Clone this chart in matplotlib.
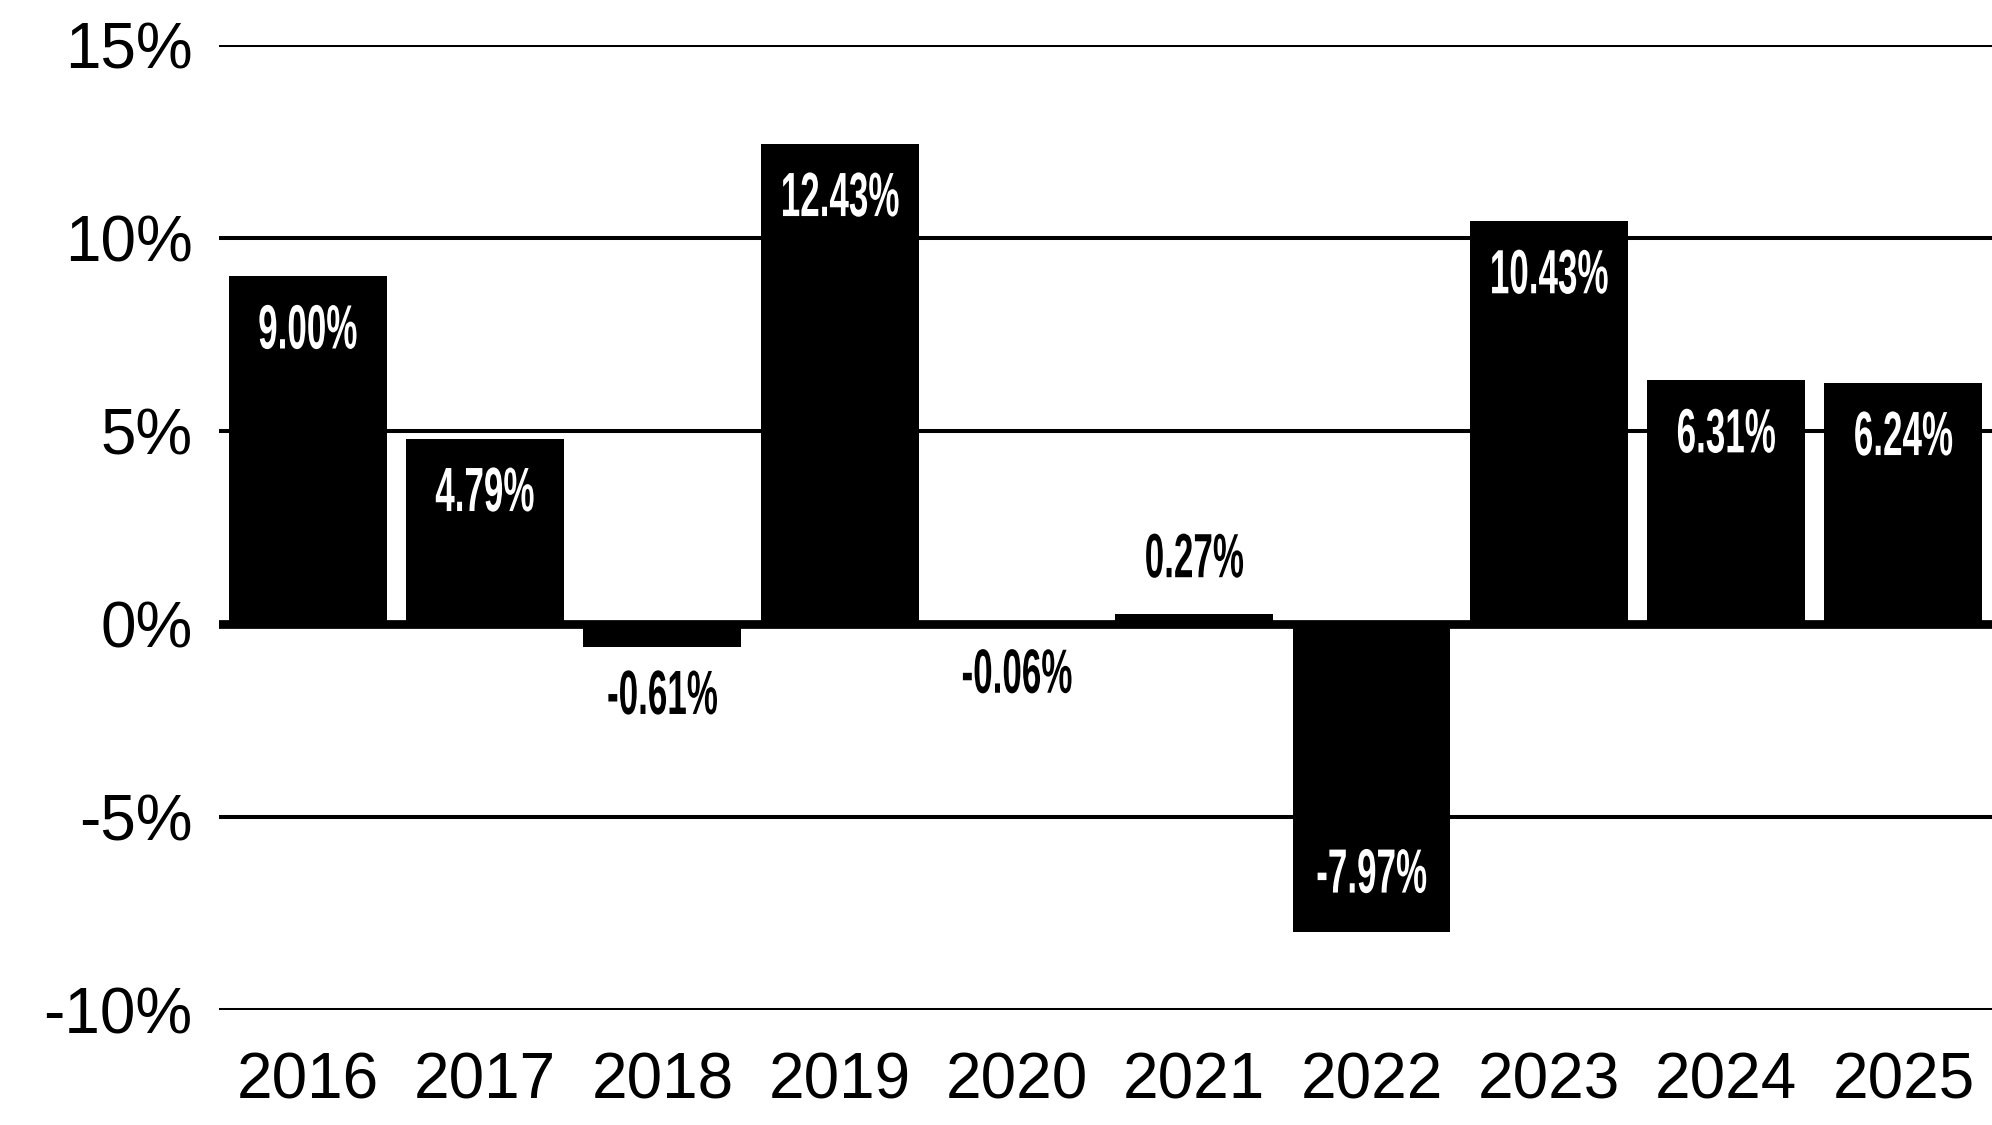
import numpy as np
import matplotlib
matplotlib.use("Agg")
import matplotlib.pyplot as plt
from matplotlib.patheffects import AbstractPathEffect
from matplotlib.transforms import Affine2D

years = ['2016', '2017', '2018', '2019', '2020', '2021', '2022', '2023', '2024', '2025']
returns = [9.00, 4.79, -0.61, 12.43, -0.06, 0.27, -7.97, 10.43, 6.31, 6.24]
yticks = [-10, -5, 0, 5, 10, 15]

tick_font = ['Liberation Sans', 'DejaVu Sans']
label_font = ['Liberation Sans', 'DejaVu Sans']


class Squeeze(AbstractPathEffect):
    # narrow the glyphs horizontally, the labels use a condensed face
    def __init__(self, sx):
        super().__init__()
        self.sx = sx

    def draw_path(self, renderer, gc, tpath, affine, rgbFace=None):
        ext = tpath.get_extents()
        cx = (ext.x0 + ext.x1) / 2
        t = Affine2D().translate(-cx, 0).scale(self.sx, 1).translate(cx, 0) + affine
        renderer.draw_path(gc, tpath, t, rgbFace)


fig = plt.figure(figsize=(19.92, 11.25), dpi=100)
ax = fig.add_axes([0.110, 0.1022, 0.890, 0.858])

x = np.arange(len(years))
ax.bar(x, returns, width=0.89, color='black', zorder=2)

for y in yticks:
    if y == 0:
        ax.axhline(y, color='black', lw=6.3, zorder=3)
    else:
        ax.axhline(y, color='black', lw=2.9, zorder=1)

for xi, v in zip(x, returns):
    txt = f'{v:.2f}%'
    if abs(v) > 1:
        off = -40 if v > 0 else 40
        col = 'white'
    else:
        off = 38 if v > 0 else -36
        col = 'black'
    ax.annotate(txt, (xi, v), xytext=(0, off), textcoords='offset points',
                ha='center', va='center', color=col, fontsize=45,
                family=label_font, weight='bold', zorder=4,
                path_effects=[Squeeze(0.56)])

ax.set_xlim(-0.5, 9.5)
ax.set_ylim(-10, 15)
ax.set_yticks(yticks)
ax.set_yticklabels([f'{t}%' for t in yticks], family=tick_font, fontsize=46)
ax.set_xticks(x)
ax.set_xticklabels(years, family=tick_font, fontsize=46)
ax.tick_params(axis='both', length=0)
ax.tick_params(axis='y', pad=19)
ax.tick_params(axis='x', pad=30)
for s in ax.spines.values():
    s.set_visible(False)

fig.savefig('out.png', dpi=100)
